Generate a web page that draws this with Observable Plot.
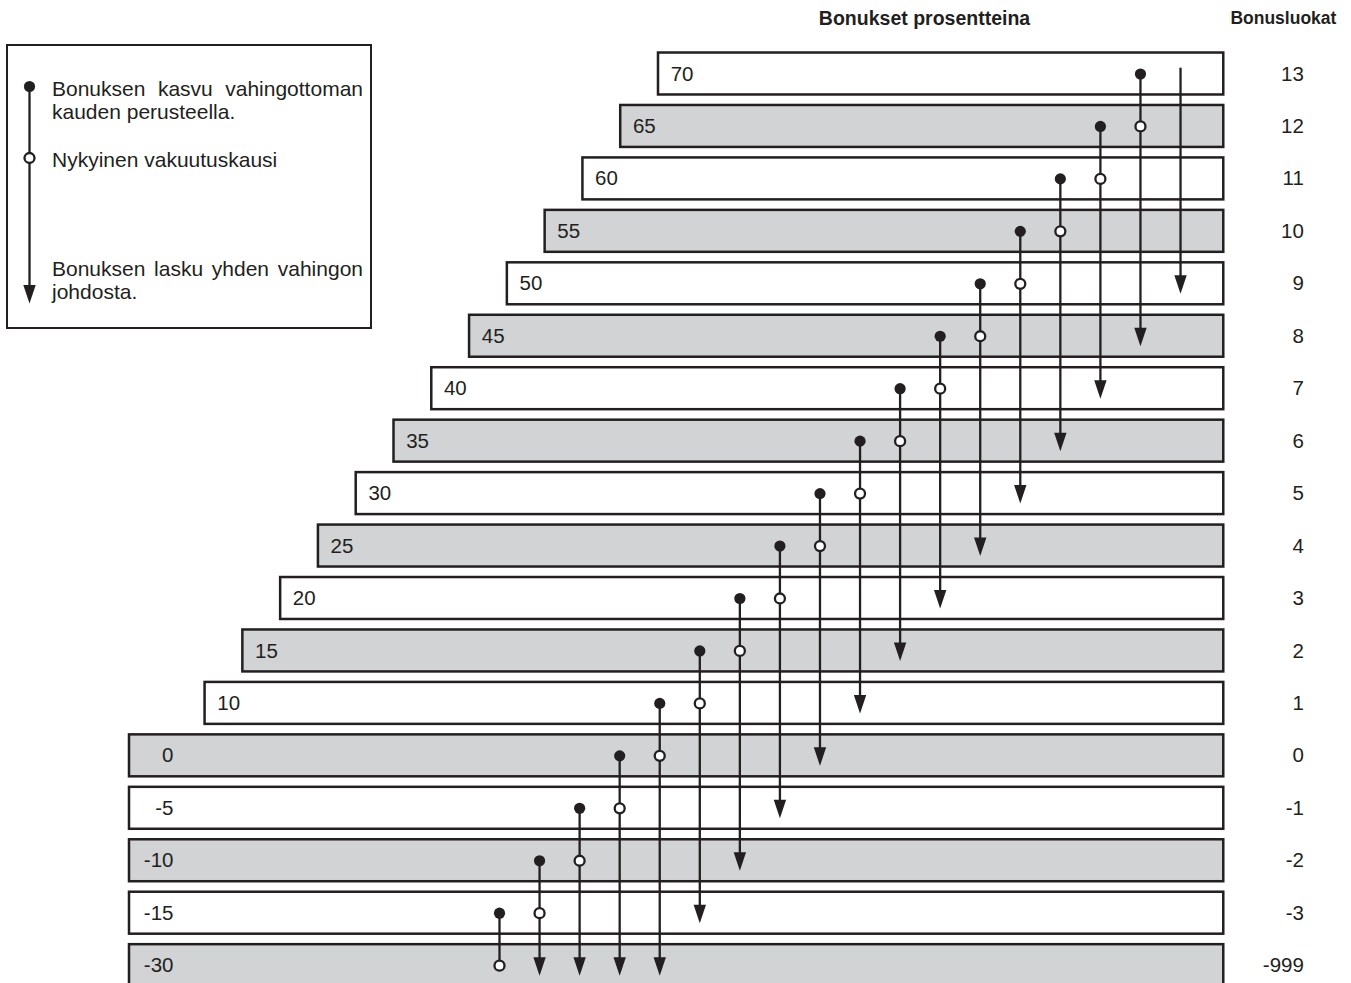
<!DOCTYPE html>
<html>
<head>
<meta charset="utf-8">
<script src="https://cdn.jsdelivr.net/npm/d3@7"></script>
<script src="https://cdn.jsdelivr.net/npm/@observablehq/plot@0.6"></script>
<style>
  html, body { margin: 0; padding: 0; background: #fff; overflow: hidden; }
  #wrap { position: relative; width: 1351px; height: 983px; font-family: "Liberation Sans", Arial, sans-serif; color: #231f20; }
  #chart { position: absolute; left: 0; top: 0; }
  #legend { position: absolute; left: 6px; top: 44px; width: 366px; height: 285px; box-sizing: border-box; border: 2.5px solid #231f20; background: #fff; }
  #legend svg { position: absolute; left: 0; top: 0; }
  .lt { position: absolute; left: 44px; width: 311px; font-size: 21px; line-height: 23px; text-align: justify; }
</style>
</head>
<body>
<div id="wrap">
  <div id="chart"></div>
  <div id="legend"></div>
</div>
<script>
// ---------- data ----------
const classes  = [13, 12, 11, 10, 9, 8, 7, 6, 5, 4, 3, 2, 1, 0, -1, -2, -3, -999];
const percents = [70, 65, 60, 55, 50, 45, 40, 35, 30, 25, 20, 15, 10, 0, -5, -10, -15, -30];
// one column per current bonus class
const currentClass    = [-999, -3, -2, -1, 0, 1, 2, 3, 4, 5, 6, 7, 8, 9, 10, 11, 12, 13];
const claimFreeClass  = [-3, -2, -1, 0, 1, 2, 3, 4, 5, 6, 7, 8, 9, 10, 11, 12, 13, null];
const afterClaimClass = [null, -999, -999, -999, -999, -3, -2, -1, 0, 1, 2, 3, 4, 5, 6, 7, 8, 9];
const headerPercent = "Bonukset prosentteina";
const headerClass = "Bonusluokat";
const legendTexts = [
  "Bonuksen kasvu vahingottoman kauden perusteella.",
  "Nykyinen vakuutuskausi",
  "Bonuksen lasku yhden vahingon johdosta."
];

// ---------- layout (not data) ----------
const INK = "#231f20", GREY = "#d1d3d4";
const ROW0 = 73.5, ROWSTEP = 52.45, HALF = 0.4;
const COL0 = 48.96, COLSTEP = 5.301;      // in x-scale units
const TABLE_RIGHT = 144.8, CLASS_LABEL_X = 155.4, HEADER_PCT_X = 105.2, HEADER_CLASS_X = 159.7;

const rowOf = c => classes.indexOf(c);
const rows = classes.map((c, i) => ({cls: c, pct: percents[i], i}));
const cols = currentClass.map((c, j) => {
  const cur = rowOf(c);
  const up = claimFreeClass[j] == null ? null : rowOf(claimFreeClass[j]);
  const down = afterClaimClass[j] == null ? null : rowOf(afterClaimClass[j]);
  return {x: COL0 + j * COLSTEP, cur, up, down,
          top: up != null ? up : cur - 0.12,
          bottom: down != null ? down : cur};
});

const arrowHead = {draw(ctx) { ctx.moveTo(0, 0); ctx.lineTo(-6.2, -18.5); ctx.lineTo(6.2, -18.5); ctx.closePath(); }};

const chart = Plot.plot({
  width: 1351, height: 983, margin: 0,
  x: {type: "linear", domain: [0, 70], range: [129, 658], axis: null},
  y: {type: "linear", domain: [0, 17], range: [ROW0, ROW0 + 17 * ROWSTEP], axis: null},
  style: {fontFamily: '"Liberation Sans", Arial, sans-serif', color: INK, background: "transparent", overflow: "hidden"},
  marks: [
    Plot.rect(rows.filter(d => d.i % 2 === 0), {x1: d => Math.max(d.pct, 0), x2: TABLE_RIGHT, y1: d => d.i - HALF, y2: d => d.i + HALF, fill: "#fff", stroke: INK, strokeWidth: 2.5}),
    Plot.rect(rows.filter(d => d.i % 2 === 1), {x1: d => Math.max(d.pct, 0), x2: TABLE_RIGHT, y1: d => d.i - HALF, y2: d => d.i + HALF, fill: GREY, stroke: INK, strokeWidth: 2.5}),
    Plot.text(rows.filter(d => d.pct > 0), {x: d => d.pct, y: "i", text: d => String(d.pct), textAnchor: "end", dx: 35, fontSize: 20.5, fill: INK}),
    Plot.text(rows.filter(d => d.pct <= 0), {x: 0, y: "i", text: d => String(d.pct), textAnchor: "end", dx: 44, fontSize: 20.5, fill: INK}),
    Plot.text(rows, {x: CLASS_LABEL_X, y: "i", text: d => String(d.cls), textAnchor: "end", fontSize: 20.5, fill: INK}),
    Plot.text([headerPercent], {x: HEADER_PCT_X, y: -1, text: d => d, fontWeight: "bold", fontSize: 19.5, dy: -3, fill: INK}),
    Plot.text([headerClass], {x: HEADER_CLASS_X, y: -1, text: d => d, fontWeight: "bold", fontSize: 17.5, dy: -3, textAnchor: "end", fill: INK}),
    Plot.link(cols, {x1: "x", x2: "x", y1: "top", y2: "bottom", stroke: INK, strokeWidth: 2.3}),
    Plot.dot(cols.filter(d => d.up != null), {x: "x", y: "up", r: 5.6, fill: INK, stroke: "none"}),
    Plot.dot(cols.filter(d => d.up != null), {x: "x", y: "cur", r: 5, fill: "#fff", stroke: INK, strokeWidth: 2.3}),
    Plot.dot(cols.filter(d => d.down != null), {x: "x", y: "down", symbol: arrowHead, r: 5, fill: INK, stroke: "none", dy: 10})
  ]
});
document.getElementById("chart").appendChild(chart);

// ---------- legend ----------
const lg = document.getElementById("legend");
lg.innerHTML = `
<svg width="60" height="280">
  <line x1="21.5" y1="40.5" x2="21.5" y2="250" stroke="${INK}" stroke-width="2.3"/>
  <circle cx="21.5" cy="40.5" r="5.6" fill="${INK}"/>
  <circle cx="21.5" cy="112" r="5" fill="#fff" stroke="${INK}" stroke-width="2.3"/>
  <path d="M21.5,257.5 L15.3,239 L27.7,239 Z" fill="${INK}"/>
</svg>
<div class="lt" style="top:31px">${legendTexts[0]}</div>
<div class="lt" style="top:102px">${legendTexts[1]}</div>
<div class="lt" style="top:211px">${legendTexts[2]}</div>`;
</script>
</body>
</html>
